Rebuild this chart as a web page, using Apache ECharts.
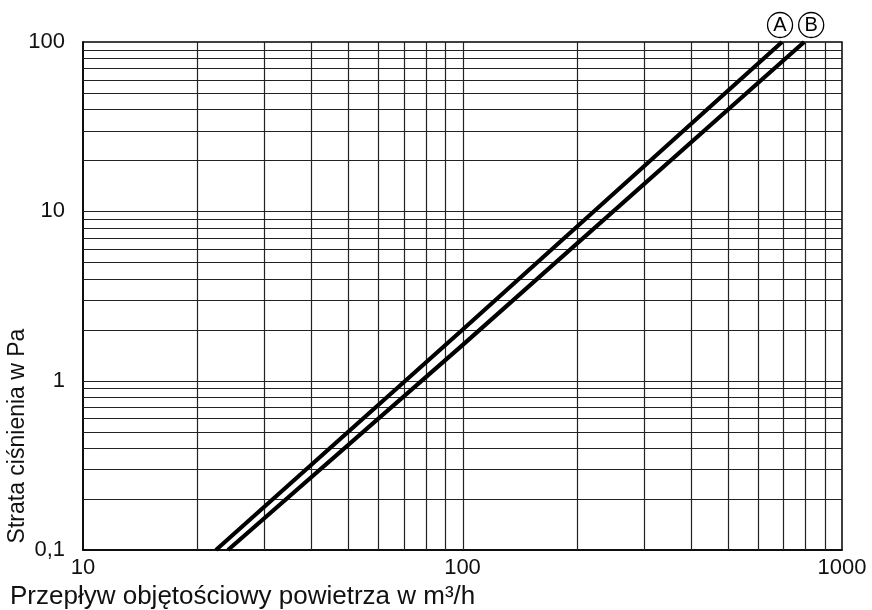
<!DOCTYPE html>
<html>
<head>
<meta charset="utf-8">
<script src="https://cdn.jsdelivr.net/npm/echarts@6/dist/echarts.min.js"></script>
<style>
  html, body { margin: 0; padding: 0; background: #fff; }
  #chart { width: 872px; height: 610px; }
</style>
</head>
<body>
<div id="chart"></div>
<script>
// Pressure loss vs. air volume flow, log-log
const xTicks = [10, 100, 1000];
const yTicks = [0.1, 1, 10, 100];
const xGridValues = [20, 30, 40, 50, 60, 70, 80, 90, 100, 200, 300, 400, 500, 600, 700, 800, 900];
const yGridValues = [0.2, 0.3, 0.4, 0.5, 0.6, 0.7, 0.8, 0.9, 1, 2, 3, 4, 5, 6, 7, 8, 9, 10, 20, 30, 40, 50, 60, 70, 80, 90];

const seriesNames = ['A', 'B'];
// [flow m³/h, pressure loss Pa]
const curveA = [[22.4, 0.1], [100, 2.0], [695, 100]];
const curveB = [[24.1, 0.1], [100, 1.62], [795, 100]];

const FONT = '"Liberation Sans", Arial, sans-serif';
const chart = echarts.init(document.getElementById('chart'), null, { renderer: 'canvas' });

function gridLineSeries(values, dir) {
  return {
    type: 'custom',
    silent: true,
    z: 1,
    data: values.map(v => [v]),
    renderItem: function (params, api) {
      const cs = params.coordSys;
      const v = api.value(0);
      let x1, y1, x2, y2;
      if (dir === 'v') {
        const p = api.coord([v, 1]);
        x1 = x2 = Math.round(p[0]) + 0.5;
        y1 = cs.y; y2 = cs.y + cs.height;
      } else {
        const p = api.coord([100, v]);
        y1 = y2 = Math.round(p[1]) + 0.5;
        x1 = cs.x; x2 = cs.x + cs.width;
      }
      return {
        type: 'line',
        shape: { x1: x1, y1: y1, x2: x2, y2: y2 },
        style: { stroke: '#222', lineWidth: 1.2 }
      };
    }
  };
}

function curveSeries(name, data, offsetX) {
  const last = data[data.length - 1];
  return {
    name: name,
    type: 'line',
    data: data,
    symbol: 'none',
    clip: true,
    z: 5,
    lineStyle: { color: '#000', width: 4.2 },
    markPoint: {
      silent: true,
      symbol: 'circle',
      symbolSize: 25,
      symbolOffset: [offsetX, -17],
      itemStyle: { color: '#fff', borderColor: '#000', borderWidth: 1.3 },
      label: { show: true, formatter: name, color: '#000', fontSize: 20, fontFamily: FONT, position: 'inside' },
      data: [{ coord: last }]
    }
  };
}

chart.setOption({
  animation: false,
  backgroundColor: '#fff',
  grid: {
    left: 83, right: 30, top: 42, bottom: 60,
    show: true, borderColor: '#000', borderWidth: 1.5, backgroundColor: 'transparent'
  },
  xAxis: {
    type: 'log', logBase: 10, min: xTicks[0], max: xTicks[xTicks.length - 1],
    axisLine: { show: true, lineStyle: { color: '#000', width: 1.5 } },
    axisTick: { show: false },
    splitLine: { show: false },
    axisLabel: { color: '#111', fontSize: 22, fontFamily: FONT, margin: 7,
      formatter: v => String(v).replace('.', ',') }
  },
  yAxis: {
    type: 'log', logBase: 10, min: yTicks[0], max: yTicks[yTicks.length - 1],
    axisLine: { show: true, lineStyle: { color: '#000', width: 1.5 } },
    axisTick: { show: false },
    splitLine: { show: false },
    axisLabel: { color: '#111', fontSize: 22, fontFamily: FONT, margin: 18,
      formatter: v => String(v).replace('.', ',') }
  },
  graphic: [
    { type: 'text', left: 10, top: 584,
      style: { text: 'Przepływ objętościowy powietrza w m³/h', fontSize: 26, fontFamily: FONT, fill: '#111' } },
    { type: 'text', x: 6, y: 436, rotation: Math.PI / 2,
      style: { text: 'Strata ciśnienia w Pa', fontSize: 23, fontFamily: FONT, fill: '#111',
        align: 'center', verticalAlign: 'top' } }
  ],
  series: [
    gridLineSeries(xGridValues, 'v'),
    gridLineSeries(yGridValues, 'h'),
    curveSeries(seriesNames[0], curveA, -2),
    curveSeries(seriesNames[1], curveB, 7)
  ]
});
</script>
</body>
</html>
